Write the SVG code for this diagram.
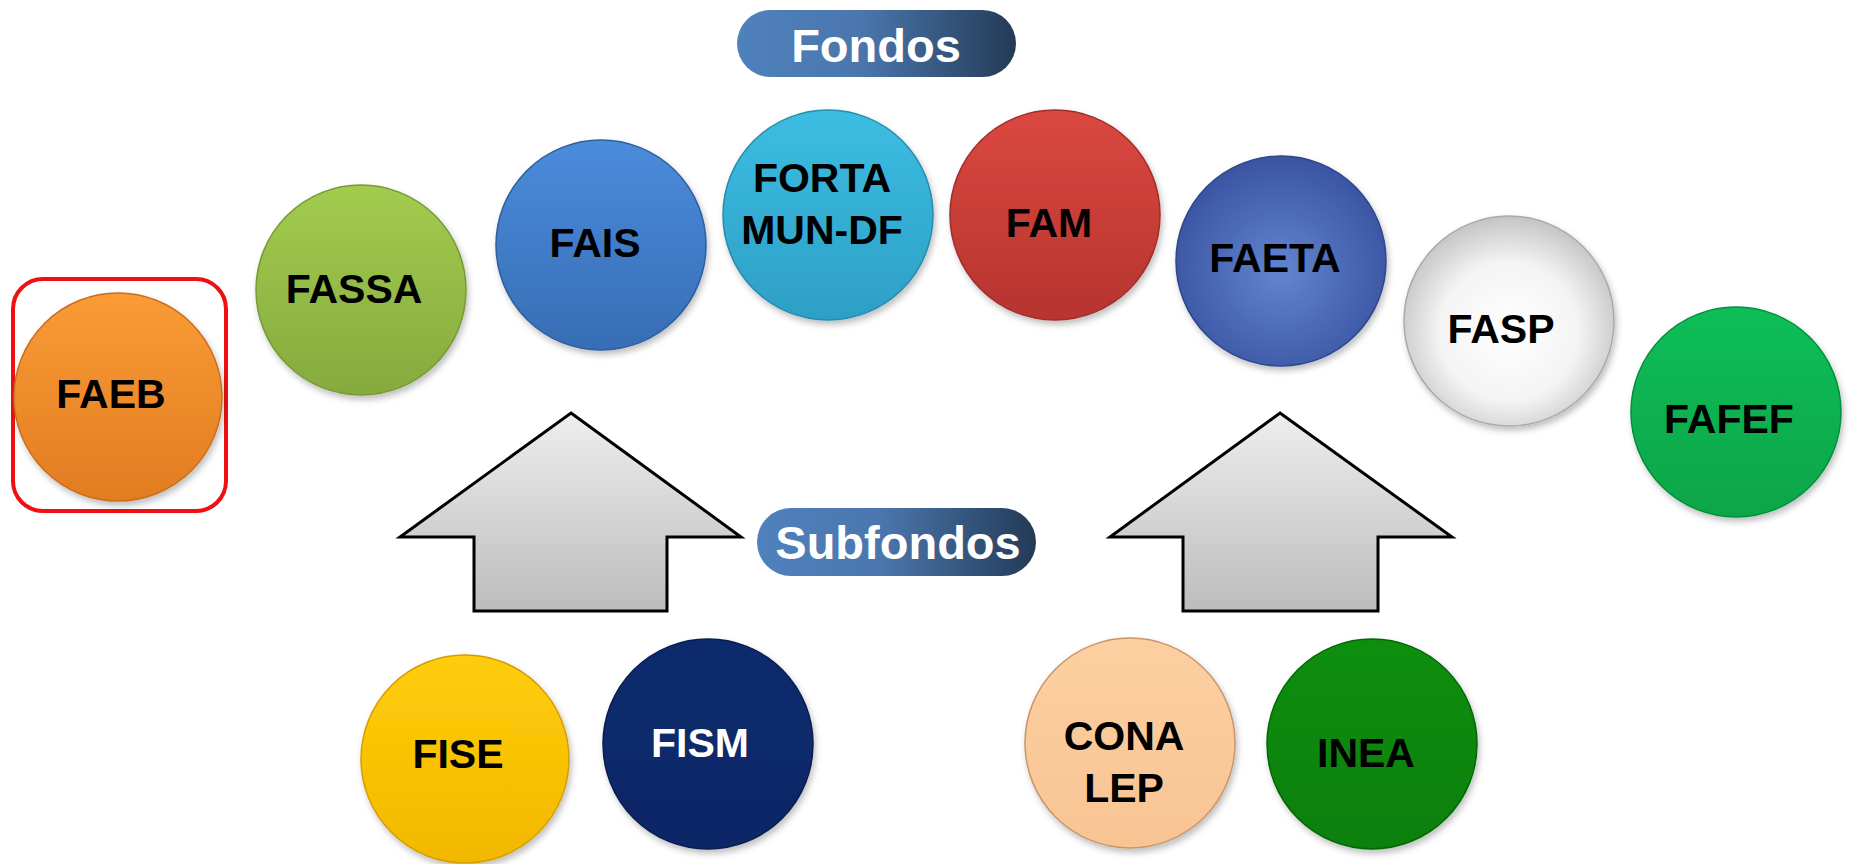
<svg xmlns="http://www.w3.org/2000/svg" width="1850" height="864" viewBox="0 0 1850 864">
<style>
.lbl{font-family:"Liberation Sans",Arial,sans-serif;font-weight:bold;font-size:41px;fill:#000;text-anchor:middle}
.wlbl{font-family:"Liberation Sans",Arial,sans-serif;font-weight:bold;font-size:41px;fill:#fff;text-anchor:middle}
.pill{font-family:"Liberation Sans",Arial,sans-serif;font-weight:bold;font-size:47px;fill:#fff;text-anchor:middle}
.disc{filter:url(#sh);stroke-width:1.5}
.arrow{fill:url(#gArrow);stroke:#000;stroke-width:3;stroke-linejoin:miter}
</style>
<defs>
<filter id="sh" x="-20%" y="-20%" width="140%" height="140%">
<feDropShadow dx="2" dy="4" stdDeviation="3" flood-color="#000" flood-opacity="0.25"/>
</filter>
<linearGradient id="gPill" x1="0" y1="0" x2="1" y2="0">
<stop offset="0" stop-color="#4f81bd"/><stop offset="0.45" stop-color="#4a76ad"/><stop offset="1" stop-color="#243a56"/>
</linearGradient>
<linearGradient id="gArrow" x1="0" y1="0" x2="0" y2="1">
<stop offset="0" stop-color="#eeeeee"/><stop offset="1" stop-color="#bcbcbc"/>
</linearGradient>
<linearGradient id="gOrange" x1="0" y1="0" x2="0" y2="1"><stop offset="0" stop-color="#fa9b35"/><stop offset="1" stop-color="#e27c22"/></linearGradient>
<linearGradient id="gLime" x1="0" y1="0" x2="0" y2="1"><stop offset="0" stop-color="#a2cc4e"/><stop offset="1" stop-color="#86aa3e"/></linearGradient>
<linearGradient id="gBlue" x1="0" y1="0" x2="0" y2="1"><stop offset="0" stop-color="#4a8cdb"/><stop offset="1" stop-color="#386db5"/></linearGradient>
<linearGradient id="gCyan" x1="0" y1="0" x2="0" y2="1"><stop offset="0" stop-color="#3cbde2"/><stop offset="1" stop-color="#2e9fc6"/></linearGradient>
<linearGradient id="gRed" x1="0" y1="0" x2="0" y2="1"><stop offset="0" stop-color="#db4840"/><stop offset="1" stop-color="#b6342f"/></linearGradient>
<radialGradient id="gNavy" cx="0.5" cy="0.55" r="0.55"><stop offset="0" stop-color="#6385d0"/><stop offset="1" stop-color="#3a54a2"/></radialGradient>
<radialGradient id="gWhite" cx="0.5" cy="0.55" r="0.55"><stop offset="0" stop-color="#ffffff"/><stop offset="0.6" stop-color="#f4f4f4"/><stop offset="1" stop-color="#c4c4c4"/></radialGradient>
<linearGradient id="gGreen" x1="0" y1="0" x2="0" y2="1"><stop offset="0" stop-color="#0fbe58"/><stop offset="1" stop-color="#07a548"/></linearGradient>
<linearGradient id="gYellow" x1="0" y1="0" x2="0" y2="1"><stop offset="0" stop-color="#ffcd0a"/><stop offset="1" stop-color="#f2b800"/></linearGradient>
<linearGradient id="gDark" x1="0" y1="0" x2="0" y2="1"><stop offset="0" stop-color="#0c2b6e"/><stop offset="1" stop-color="#0a2766"/></linearGradient>
<linearGradient id="gPeach" x1="0" y1="0" x2="0" y2="1"><stop offset="0" stop-color="#fdcfa0"/><stop offset="1" stop-color="#f8c494"/></linearGradient>
<linearGradient id="gForest" x1="0" y1="0" x2="0" y2="1"><stop offset="0" stop-color="#0c8f0c"/><stop offset="1" stop-color="#077f07"/></linearGradient>
</defs>

<g id="connectors">
<path class="arrow" d="M571,413 L741,537 L667,537 L667,611 L474,611 L474,537 L400,537 Z"/>
<path class="arrow" d="M1280,413 L1452,537 L1378,537 L1378,611 L1183,611 L1183,537 L1110,537 Z"/>
</g>

<g id="fondos">
<rect x="737" y="10" width="279" height="67" rx="33.5" fill="url(#gPill)"/>
<text class="pill" x="876" y="62">Fondos</text>
</g>
<g id="subfondos">
<rect x="757" y="508" width="279" height="68" rx="34" fill="url(#gPill)"/>
<text class="pill" x="898" y="559">Subfondos</text>
</g>

<g id="faeb">
<rect x="13" y="279" width="213" height="232" rx="30" fill="none" stroke="#ee1111" stroke-width="4"/>
<circle class="disc" cx="118" cy="397" r="104" fill="url(#gOrange)" stroke="#c86e1e"/>
<text class="lbl" x="111" y="408">FAEB</text>
</g>
<g id="fassa">
<circle class="disc" cx="361" cy="290" r="105" fill="url(#gLime)" stroke="#789a36"/>
<text class="lbl" x="354" y="303">FASSA</text>
</g>
<g id="fais">
<circle class="disc" cx="601" cy="245" r="105" fill="url(#gBlue)" stroke="#2f5e9e"/>
<text class="lbl" x="595" y="257">FAIS</text>
</g>
<g id="fortamundf">
<circle class="disc" cx="828" cy="215" r="105" fill="url(#gCyan)" stroke="#288cae"/>
<text class="lbl" x="822" y="192">FORTA</text>
<text class="lbl" x="822" y="244">MUN-DF</text>
</g>
<g id="fam">
<circle class="disc" cx="1055" cy="215" r="105" fill="url(#gRed)" stroke="#a02e2a"/>
<text class="lbl" x="1049" y="237">FAM</text>
</g>
<g id="faeta">
<circle class="disc" cx="1281" cy="261" r="105" fill="url(#gNavy)" stroke="#2f468a"/>
<text class="lbl" x="1275" y="272">FAETA</text>
</g>
<g id="fasp">
<circle class="disc" cx="1509" cy="321" r="105" fill="url(#gWhite)" stroke="#aaaaaa"/>
<text class="lbl" x="1501" y="343">FASP</text>
</g>
<g id="fafef">
<circle class="disc" cx="1736" cy="412" r="105" fill="url(#gGreen)" stroke="#06903e"/>
<text class="lbl" x="1729" y="433">FAFEF</text>
</g>

<g id="fise">
<circle class="disc" cx="465" cy="759" r="104" fill="url(#gYellow)" stroke="#d49e00"/>
<text class="lbl" x="458" y="768">FISE</text>
</g>
<g id="fism">
<circle class="disc" cx="708" cy="744" r="105" fill="url(#gDark)" stroke="#071d4e"/>
<text class="wlbl" x="700" y="757">FISM</text>
</g>
<g id="conalep">
<circle class="disc" cx="1130" cy="743" r="105" fill="url(#gPeach)" stroke="#c8966a"/>
<text class="lbl" x="1124" y="750">CONA</text>
<text class="lbl" x="1124" y="802">LEP</text>
</g>
<g id="inea">
<circle class="disc" cx="1372" cy="744" r="105" fill="url(#gForest)" stroke="#066806"/>
<text class="lbl" x="1366" y="767">INEA</text>
</g>
</svg>
